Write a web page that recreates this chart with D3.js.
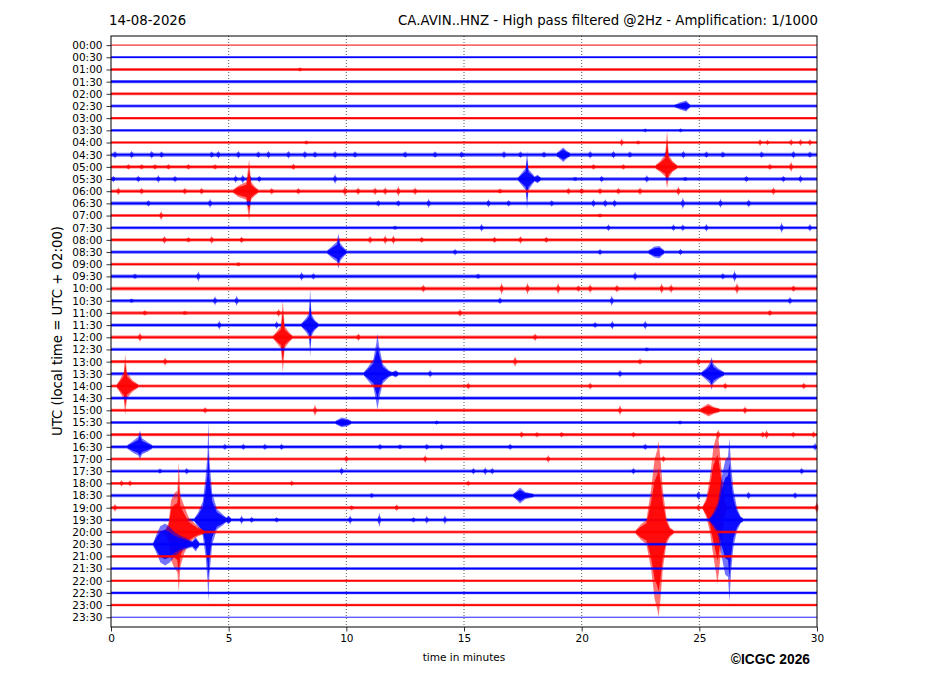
<!DOCTYPE html>
<html>
<head>
<meta charset="utf-8">
<script src="https://cdn.jsdelivr.net/npm/d3@7"></script>
<style>
  body { margin: 0; background: #fff; }
  svg text { font-family: "DejaVu Sans", sans-serif; fill: #000; }
</style>
</head>
<body>
<div id="chart"></div>
<script>
// helicorder rows, one per half hour
var rowLabels = ["00:00","00:30","01:00","01:30","02:00","02:30","03:00","03:30",
  "04:00","04:30","05:00","05:30","06:00","06:30","07:00","07:30",
  "08:00","08:30","09:00","09:30","10:00","10:30","11:00","11:30",
  "12:00","12:30","13:00","13:30","14:00","14:30","15:00","15:30",
  "16:00","16:30","17:00","17:30","18:00","18:30","19:00","19:30",
  "20:00","20:30","21:00","21:30","22:00","22:30","23:00","23:30"];

var minuteTicks = [0, 5, 10, 15, 20, 25, 30];

// background noise half-amplitude of every row (in row spacings)
var rowNoise = [0.05,0.08,0.13,0.13,0.12,0.12,0.10,0.09,
  0.10,0.16,0.14,0.15,0.15,0.15,0.12,0.12,
  0.14,0.13,0.12,0.15,0.15,0.14,0.14,0.14,
  0.14,0.13,0.13,0.14,0.13,0.13,0.13,0.13,
  0.13,0.14,0.13,0.13,0.12,0.14,0.13,0.14,
  0.12,0.12,0.11,0.11,0.11,0.11,0.10,0.05];

// short bursts: [row, minute, amplitude]
var bursts = [
  [2,8.03,0.2],[7,22.7,0.2],[7,24.2,0.2],
  [8,8.3,0.2],[8,21.7,0.35],[8,22.4,0.2],[8,27.58,0.3],[8,27.9,0.25],[8,28.9,0.3],[8,29.3,0.3],[8,29.7,0.3],
  [9,0.17,0.35],[9,0.88,0.35],[9,1.73,0.35],[9,2.15,0.3],[9,4.28,0.3],[9,4.56,0.35],[9,5.41,0.35],[9,6.26,0.3],
  [9,6.69,0.35],[9,7.54,0.35],[9,8.24,0.35],[9,8.67,0.3],[9,9.52,0.35],[9,10.37,0.3],[9,12.5,0.3],[9,13.77,0.3],
  [9,14.9,0.3],[9,16.7,0.35],[9,17.4,0.3],[9,18.4,0.3],[9,20.36,0.35],[9,21.35,0.35],[9,22.05,0.3],[9,23.6,0.3],
  [9,24.32,0.35],[9,25.3,0.3],[9,26.0,0.3],[9,27.65,0.3],[9,29.0,0.35],[9,29.7,0.3],
  [10,0.74,0.25],[10,1.3,0.25],[10,1.87,0.25],[10,2.44,0.25],[10,3.29,0.25],[10,4.42,0.25],[10,7.75,0.3],
  [10,20.5,0.25],[10,21.77,0.25],[10,28.0,0.3],[10,28.9,0.45],
  [11,0.1,0.3],[11,1.16,0.3],[11,2.01,0.35],[11,2.72,0.3],[11,5.3,0.35],[11,5.6,0.4],[11,5.9,0.35],[11,6.3,0.3],
  [11,9.52,0.45],[11,19.72,0.2],[11,20.85,0.3],[11,22.77,0.35],[11,24.4,0.2],[11,27.0,0.3],[11,28.57,0.3],[11,29.3,0.35],
  [12,0.31,0.35],[12,1.3,0.3],[12,3.14,0.3],[12,3.85,0.3],[12,6.83,0.3],[12,7.96,0.3],[12,9.94,0.45],[12,10.5,0.35],
  [12,11.22,0.35],[12,11.65,0.35],[12,12.21,0.45],[12,12.92,0.35],[12,16.53,0.25],[12,19.44,0.3],[12,20.0,0.3],
  [12,20.78,0.3],[12,21.56,0.3],[12,22.48,0.35],[12,24.11,0.4],[12,28.15,0.35],
  [13,1.59,0.3],[13,4.21,0.4],[13,5.84,0.25],[13,11.36,0.3],[13,12.21,0.3],[13,13.5,0.4],[13,16.04,0.35],[13,16.9,0.3],
  [13,18.73,0.3],[13,20.5,0.35],[13,21.0,0.35],[13,21.4,0.35],[13,24.3,0.5],[13,25.9,0.4],[13,27.1,0.35],
  [14,2.13,0.4],[14,20.78,0.2],
  [15,12.07,0.2],[15,15.75,0.35],[15,21.14,0.3],[15,23.9,0.3],[15,24.3,0.3],[15,25.3,0.35],[15,28.5,0.45],[15,29.7,0.35],
  [16,2.27,0.35],[16,3.29,0.25],[16,4.28,0.35],[16,5.55,0.3],[16,11.01,0.35],[16,11.65,0.4],[16,12.0,0.4],[16,13.2,0.3],
  [16,16.3,0.3],[16,17.4,0.35],[16,18.5,0.3],
  [17,14.62,0.3],[17,20.78,0.3],[17,24.2,0.3],
  [18,5.41,0.2],
  [19,1.02,0.25],[19,3.71,0.45],[19,8.1,0.4],[19,8.6,0.3],[19,15.6,0.25],[19,22.27,0.4],[19,26.0,0.3],[19,26.5,0.5],
  [20,13.27,0.35],[20,16.6,0.5],[20,17.7,0.5],[20,19.0,0.5],[20,19.86,0.3],[20,20.36,0.4],[20,21.5,0.35],[20,23.4,0.45],
  [20,23.8,0.4],[20,26.6,0.5],[20,29.0,0.3],
  [21,0.88,0.2],[21,4.42,0.4],[21,5.34,0.45],[21,16.53,0.3],[21,21.28,0.45],[21,28.85,0.35],
  [22,1.44,0.25],[22,3.14,0.2],[22,7.12,0.35],[22,14.83,0.35],[22,28.0,0.3],
  [23,4.6,0.4],[23,7.04,0.35],[23,20.57,0.3],[23,21.3,0.4],[23,22.7,0.4],
  [24,1.23,0.4],[24,10.51,0.35],[24,18.02,0.35],
  [25,22.77,0.2],
  [26,2.3,0.35],[26,17.17,0.45],[26,22.48,0.3],[26,24.96,0.35],
  [27,13.56,0.35],[27,21.63,0.35],
  [28,15.18,0.3],[28,20.36,0.3],[28,26.1,0.3],[28,29.44,0.3],
  [30,4.0,0.3],[30,8.67,0.5],[30,21.63,0.45],[30,26.94,0.35],
  [31,13.84,0.2],[31,24.18,0.2],
  [32,17.45,0.3],[32,18.1,0.25],[32,19.15,0.25],[32,22.2,0.25],[32,25.8,0.45],[32,27.7,0.3],[32,27.86,0.4],
  [32,28.99,0.25],[32,29.85,0.3],
  [33,4.84,0.3],[33,5.62,0.3],[33,6.54,0.3],[33,7.25,0.3],[33,11.43,0.3],[33,12.28,0.25],[33,13.42,0.3],
  [33,14.05,0.3],[33,16.96,0.3],[33,22.7,0.3],[33,29.92,0.35],
  [34,10.0,0.3],[34,13.35,0.35],[34,18.58,0.35],[34,23.47,0.3],
  [35,2.08,0.25],[35,3.22,0.3],[35,9.8,0.35],[35,15.4,0.3],[35,15.9,0.35],[35,16.2,0.3],[35,22.2,0.3],[35,29.35,0.3],
  [36,0.45,0.3],[36,0.81,0.3],[36,7.68,0.25],[36,15.18,0.25],
  [37,11.08,0.25],[37,24.96,0.4],[37,27.09,0.35],[37,29.07,0.3],
  [38,0.17,0.35],[38,10.23,0.25],[38,12.14,0.3],[38,24.96,0.3],[38,29.99,0.5],
  [39,5.55,0.4],[39,5.98,0.3],[39,7.04,0.25],[39,10.16,0.4],[39,11.4,0.6],[39,12.85,0.25],[39,13.42,0.35],[39,14.19,0.4]
];

// larger events: row and envelope points [minute, up, down]
var quakeRows = [5, 9, 10, 11, 12, 17, 17, 23, 24, 27, 27, 28, 30, 31, 33, 37, 38, 39, 39, 40, 40, 41];
var quakeEnvelopes = [
  [[23.95,0.1,0.1],[24.2,0.3,0.3],[24.44,0.45,0.45],[24.6,0.12,0.12]],
  [[18.95,0.15,0.15],[19.1,0.4,0.4],[19.22,0.6,0.6],[19.35,0.35,0.35],[19.5,0.15,0.15]],
  [[23.15,0.15,0.15],[23.35,0.5,0.45],[23.55,1.0,0.8],[23.63,3.0,1.75],[23.7,1.0,0.9],[23.85,0.5,0.45],[24.05,0.15,0.15]],
  [[17.3,0.15,0.15],[17.45,0.5,0.5],[17.62,0.9,0.9],[17.68,2.3,2.5],[17.74,0.8,0.9],[17.9,0.45,0.45],[18.0,0.2,0.2],[18.13,0.35,0.35],[18.25,0.15,0.15]],
  [[5.2,0.15,0.15],[5.4,0.45,0.45],[5.75,0.75,0.7],[5.87,2.6,2.45],[5.95,0.8,0.7],[6.1,0.4,0.4],[6.25,0.15,0.15]],
  [[9.2,0.15,0.15],[9.4,0.5,0.5],[9.6,0.85,0.8],[9.66,1.5,1.35],[9.75,0.7,0.7],[9.9,0.35,0.35],[10.0,0.15,0.15]],
  [[22.85,0.15,0.15],[23.1,0.45,0.45],[23.3,0.5,0.5],[23.5,0.15,0.15]],
  [[8.1,0.15,0.15],[8.3,0.6,0.6],[8.42,1.0,1.0],[8.46,3.0,2.6],[8.52,0.9,0.9],[8.65,0.45,0.45],[8.8,0.15,0.15]],
  [[6.9,0.15,0.15],[7.05,0.5,0.5],[7.22,0.9,0.9],[7.3,3.0,2.85],[7.38,0.9,0.9],[7.55,0.45,0.45],[7.7,0.15,0.15]],
  [[10.75,0.15,0.15],[10.9,0.5,0.5],[11.15,1.2,1.1],[11.28,2.6,2.4],[11.32,3.3,2.95],[11.4,2.2,2.0],[11.55,0.8,0.8],[11.8,0.3,0.3],[11.95,0.15,0.15],[12.1,0.3,0.3],[12.2,0.15,0.15]],
  [[25.1,0.15,0.15],[25.3,0.5,0.5],[25.45,0.9,0.8],[25.52,1.35,1.3],[25.6,0.8,0.8],[25.8,0.45,0.45],[26.05,0.15,0.15]],
  [[0.25,0.15,0.15],[0.4,0.6,0.6],[0.55,1.2,1.1],[0.6,2.6,2.4],[0.68,1.1,1.0],[0.9,0.5,0.5],[1.15,0.15,0.15]],
  [[25.05,0.15,0.15],[25.3,0.45,0.4],[25.39,0.55,0.5],[25.6,0.3,0.3],[25.85,0.15,0.15]],
  [[9.55,0.15,0.15],[9.8,0.4,0.4],[10.05,0.3,0.3],[10.2,0.15,0.15]],
  [[0.7,0.15,0.15],[0.95,0.5,0.5],[1.15,0.8,0.7],[1.23,1.35,1.05],[1.32,0.7,0.6],[1.55,0.4,0.4],[1.75,0.15,0.15]],
  [[17.1,0.15,0.15],[17.3,0.5,0.5],[17.38,0.65,0.65],[17.6,0.3,0.3],[17.95,0.15,0.15]],
  [[25.15,0.15,0.15],[25.3,0.8,0.8],[25.45,2.5,2.0],[25.6,5.0,4.0],[25.72,5.8,5.5],[25.77,6.2,6.25],[25.85,5.0,5.0],[25.95,3.0,3.0],[26.05,1.0,1.0],[26.15,0.15,0.15]],
  [[3.55,0.15,0.15],[3.7,0.6,0.6],[3.9,1.5,1.3],[4.02,3.5,3.0],[4.1,5.4,5.0],[4.14,8.2,6.75],[4.18,5.0,4.6],[4.3,2.2,2.0],[4.5,0.9,0.8],[4.75,0.45,0.45],[4.9,0.2,0.2],[4.99,0.35,0.35],[5.1,0.15,0.15]],
  [[25.45,0.15,0.15],[25.6,0.6,0.6],[25.8,1.5,1.3],[25.95,3.5,3.0],[26.1,4.9,4.5],[26.22,5.2,4.7],[26.28,6.7,6.75],[26.35,4.5,4.2],[26.45,2.5,2.2],[26.6,1.0,0.9],[26.75,0.3,0.3],[26.85,0.15,0.15]],
  [[2.3,0.15,0.15],[2.45,0.8,0.8],[2.55,2.6,2.3],[2.7,3.2,3.0],[2.82,3.4,3.3],[2.88,5.75,4.9],[2.95,3.0,2.8],[3.1,2.2,1.8],[3.3,1.2,1.0],[3.5,0.8,0.6],[3.7,0.45,0.35],[3.95,0.15,0.15]],
  [[22.3,0.15,0.15],[22.5,0.6,0.6],[22.75,1.0,1.0],[22.95,3.5,3.0],[23.1,6.0,5.5],[23.22,6.8,6.4],[23.27,7.5,7.0],[23.35,6.0,5.5],[23.45,3.5,3.0],[23.6,1.2,1.0],[23.75,0.4,0.4],[23.9,0.15,0.15]],
  [[1.8,0.15,0.15],[1.95,0.9,0.8],[2.1,1.5,1.5],[2.3,1.7,1.75],[2.5,1.4,1.5],[2.7,1.0,1.0],[2.95,0.7,0.6],[3.2,0.5,0.4],[3.45,0.25,0.25],[3.6,0.6,0.6],[3.75,0.15,0.15]]
];

var width = 927, height = 696;
var margin = {top: 36, right: 110, bottom: 69, left: 111};

var svg = d3.select("#chart").append("svg")
    .attr("width", width)
    .attr("height", height);

var x = d3.scaleLinear().domain([0, 30]).range([margin.left, width - margin.right]);
var y = d3.scaleLinear().domain([-0.75, 47.8]).range([margin.top, height - margin.bottom]);
var colors = ["#ff0000", "#0000ff"];

// dotted minute grid
svg.append("g").selectAll("line")
    .data(minuteTicks.slice(1, -1))
    .enter().append("line")
    .attr("x1", function(d) { return x(d); })
    .attr("x2", function(d) { return x(d); })
    .attr("y1", y.range()[0])
    .attr("y2", y.range()[1])
    .attr("stroke", "#333")
    .attr("stroke-width", 0.8)
    .attr("stroke-dasharray", "1,2");

// envelope of a trace around its row; k shrinks it for the dense core
var area = function(row, k) {
    return d3.area()
        .x(function(d) { return x(d[0]); })
        .y0(function(d) { return y(row + d[2] * k); })
        .y1(function(d) { return y(row - d[1] * k); });
};

var traces = svg.append("g");

rowLabels.forEach(function(label, row) {
    var col = colors[row % 2];
    var n = rowNoise[row];
    var g = traces.append("g");

    // noise band
    g.append("path")
        .datum([[0, n, n], [30, n, n]])
        .attr("d", area(row, 1))
        .attr("fill", col)
        .attr("fill-opacity", 0.55);
    g.append("line")
        .attr("x1", x(0)).attr("x2", x(30))
        .attr("y1", y(row)).attr("y2", y(row))
        .attr("stroke", col)
        .attr("stroke-opacity", n < 0.06 ? 0.5 : 1)
        .attr("stroke-width", n < 0.06 ? 1 : 1.6);

    bursts.filter(function(b) { return b[0] === row; }).forEach(function(b) {
        g.append("path")
            .datum([[b[1] - 0.07, n, n], [b[1] - 0.02, b[2] * 0.6, b[2] * 0.6], [b[1], b[2], b[2]],
                    [b[1] + 0.02, b[2] * 0.6, b[2] * 0.6], [b[1] + 0.07, n, n]])
            .attr("d", area(row, 1))
            .attr("fill", col)
            .attr("fill-opacity", 0.7);
    });

    quakeRows.forEach(function(r, i) {
        if (r !== row) return;
        g.append("path")
            .datum(quakeEnvelopes[i])
            .attr("d", area(row, 1))
            .attr("fill", col)
            .attr("fill-opacity", 0.55);
        g.append("path")
            .datum(quakeEnvelopes[i])
            .attr("d", area(row, 0.7))
            .attr("fill", col)
            .attr("fill-opacity", 0.9);
    });
});

// axes
var yAxis = svg.append("g")
    .attr("transform", "translate(" + margin.left + ",0)")
    .call(d3.axisLeft(y)
        .tickValues(d3.range(rowLabels.length))
        .tickFormat(function(i) { return rowLabels[i]; })
        .tickSize(4.5).tickSizeOuter(0).tickPadding(4));
var xAxis = svg.append("g")
    .attr("transform", "translate(0," + (height - margin.bottom) + ")")
    .call(d3.axisBottom(x)
        .tickValues(minuteTicks)
        .tickSize(4.5).tickSizeOuter(0).tickPadding(3.5));
[yAxis, xAxis].forEach(function(a) {
    a.select(".domain").remove();
    a.selectAll("text").style("font-family", "DejaVu Sans").style("font-size", "10.5px");
    a.selectAll("line").attr("stroke", "#000").attr("stroke-width", 0.8);
});

// frame
svg.append("rect")
    .attr("x", x(0)).attr("y", y.range()[0])
    .attr("width", x(30) - x(0))
    .attr("height", y.range()[1] - y.range()[0])
    .attr("fill", "none")
    .attr("stroke", "#000")
    .attr("stroke-width", 1);

// titles and labels
svg.append("text")
    .attr("x", 109).attr("y", 25)
    .style("font-size", "13.3px")
    .text("14-08-2026");
svg.append("text")
    .attr("x", 818).attr("y", 25)
    .attr("text-anchor", "end")
    .style("font-size", "13.3px")
    .text("CA.AVIN..HNZ - High pass filtered @2Hz - Amplification: 1/1000");
svg.append("text")
    .attr("transform", "translate(62,331) rotate(-90)")
    .attr("text-anchor", "middle")
    .style("font-size", "13.3px")
    .text("UTC (local time = UTC + 02:00)");
svg.append("text")
    .attr("x", 464).attr("y", 661)
    .attr("text-anchor", "middle")
    .style("font-size", "10.5px")
    .text("time in minutes");
svg.append("text")
    .attr("x", 810).attr("y", 663.5)
    .attr("text-anchor", "end")
    .style("font-family", "Liberation Sans, Arial, sans-serif")
    .style("font-weight", "bold")
    .style("font-size", "13.8px")
    .text("©ICGC 2026");
</script>
</body>
</html>
